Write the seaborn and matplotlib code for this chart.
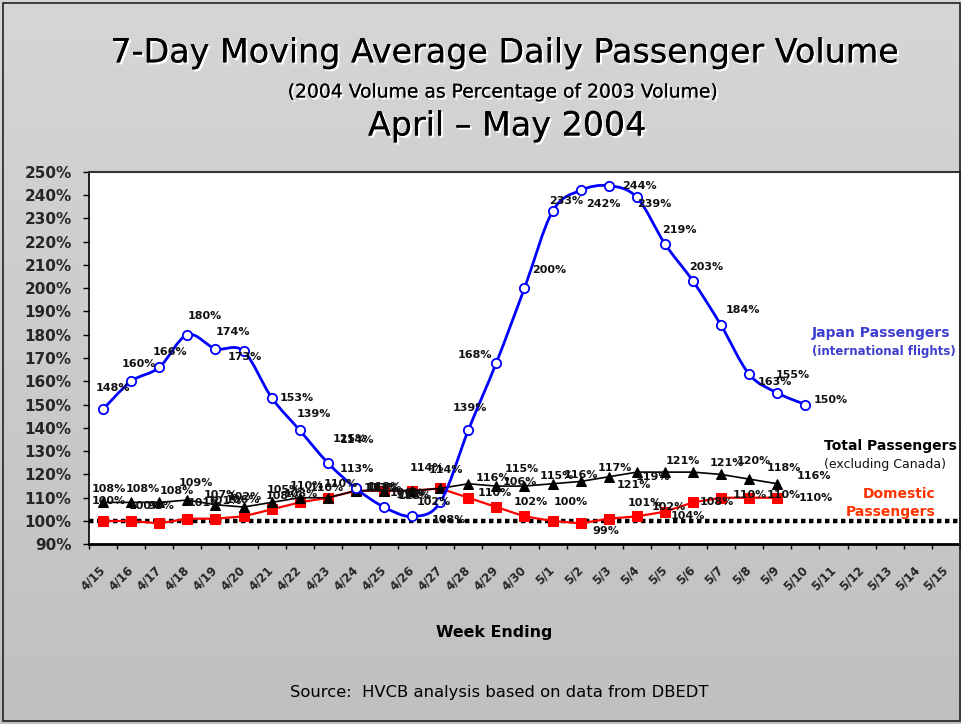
import numpy as np
import matplotlib
matplotlib.use("Agg")
import matplotlib.pyplot as plt
import matplotlib.patheffects as pe
from matplotlib.path import Path
from matplotlib.patches import PathPatch, Rectangle
from matplotlib.colors import LinearSegmentedColormap
import seaborn as sns

sns.set_theme(style="white")
plt.rcParams["font.family"] = ["DejaVu Sans"]

# categories (week ending)
dates = ["4/15", "4/16", "4/17", "4/18", "4/19", "4/20", "4/21", "4/22", "4/23", "4/24",
         "4/25", "4/26", "4/27", "4/28", "4/29", "4/30", "5/1", "5/2", "5/3", "5/4",
         "5/5", "5/6", "5/7", "5/8", "5/9", "5/10", "5/11", "5/12", "5/13", "5/14", "5/15"]

# 2004 volume as % of 2003 volume
japan = [148, 160, 166, 180, 174, 173, 153, 139, 125, 114, 106, 102, 108,
         139, 168, 200, 233, 242, 244, 239, 219, 203, 184, 163, 155, 150]
total = [108, 108, 108, 109, 107, 106, 108, 110, 110, 113, 113, 113, 114,
         116, 115, 115, 116, 117, 119, 121, 121, 121, 120, 118, 116]
domestic = [100, 100, 99, 101, 101, 102, 105, 108, 110, 113, 113, 113, 114,
            110, 106, 102, 100, 99, 101, 102, 104, 108, 110, 110, 110]

# data label offsets in pixels (dx to label left edge, dy up to label centre)
japan_lbl = [(-7, 21), (-9, 17), (-7, 15), (0, 19), (0, 17), (-16, -6), (8, 0), (-3, 16),
             (5, 24), (-16, 48), (6, 14), (5, 14), (-8, -18), (-16, 22), (-39, 8), (8, 18),
             (-3, 10), (5, -14), (13, 0), (0, -7), (-3, 14), (-4, 14), (5, 15), (8, -8),
             (-2, 18), (8, 5)]
total_lbl = [(-11, 13), (-5, 13), (0, 11), (-9, 17), (-12, 10), (-18, 7), (-6, 6), (-10, 12),
             (-4, 14), (-16, 22), (-16, 4), (-16, -4), (-30, 20), (7, 6), (8, 17), (15, 10),
             (11, 9), (17, 13), (27, 0), (-20, -13), (1, 11), (17, 9), (16, 13), (17, 11),
             (19, 8)]
domestic_lbl = [(-11, 20), (-2, 15), (-12, 17), (0, 16), (-8, 18), (-16, 19), (-5, 19), (-16, 8),
                (-18, 10), (8, 3), (-18, 3), (-14, -5), (-11, 18), (9, 5), (6, 25), (-11, 14),
                (1, 19), (12, -8), (19, 16), (15, 9), (6, -4), (7, 0), (12, 3), (17, 3), (21, 0)]


def smooth_path(xs, ys):
    pts = np.column_stack([xs, ys]).astype(float)
    ext = np.vstack([pts[0], pts, pts[-1]])
    verts = [pts[0]]
    codes = [Path.MOVETO]
    for i in range(len(pts) - 1):
        p0, p1, p2, p3 = ext[i], ext[i + 1], ext[i + 2], ext[i + 3]
        verts += [p1 + (p2 - p0) / 6, p2 - (p3 - p1) / 6, p2]
        codes += [Path.CURVE4] * 3
    return Path(verts, codes)


fig = plt.figure(figsize=(9.61, 7.24), dpi=100)

# slide background
bg = fig.add_axes([0, 0, 1, 1], zorder=-10)
bg.imshow(np.linspace(0, 1, 256).reshape(-1, 1), aspect="auto", extent=[0, 1, 0, 1],
          cmap=LinearSegmentedColormap.from_list("bg", ["#d6d6d6", "#c0c0c0"]))
bg.axis("off")
fig.patches.append(Rectangle((0.003, 0.004), 0.996, 0.992, transform=fig.transFigure,
                             fill=False, edgecolor="#222222", lw=1.2))

ax = fig.add_axes([0.0926, 0.2482, 0.9063, 0.5146])
ax.set_facecolor("white")

xj = np.arange(len(japan))
xt = np.arange(len(total))
xd = np.arange(len(domestic))

ax.axhline(100, color="black", lw=3.2, linestyle=(0, (1, 0.8)), zorder=1.5)

sns.lineplot(x=xd, y=domestic, ax=ax, color="#FF0000", lw=1.6, marker="s", markersize=7,
             markeredgecolor="#FF0000", zorder=3)
sns.lineplot(x=xt, y=total, ax=ax, color="black", lw=1.2, marker="^", markersize=7.5,
             markeredgecolor="black", zorder=3.5)
ax.add_patch(PathPatch(smooth_path(xj, japan), fill=False, edgecolor="#0000FF", lw=2, zorder=4))
sns.scatterplot(x=xj, y=japan, ax=ax, marker="o", s=45, color="white", edgecolor="#0000FF",
                linewidth=1.3, zorder=5)

for xs, ys, offs in [(xd, domestic, domestic_lbl), (xt, total, total_lbl), (xj, japan, japan_lbl)]:
    for xi, yi, (dx, dy) in zip(xs, ys, offs):
        ax.annotate(f"{yi}%", (xi, yi), xytext=(dx, dy), textcoords="offset pixels",
                    ha="left", va="center", fontsize=8, fontweight="bold", color="#111111",
                    zorder=6)

ax.set_xlim(-0.5, len(dates) - 0.5)
ax.set_ylim(90, 250)
ax.set_yticks(np.arange(90, 251, 10))
ax.set_yticklabels([f"{v}%" for v in range(90, 251, 10)], fontsize=11, fontweight="bold")
ax.set_xticks(np.arange(-0.5, len(dates), 1.0))
ax.set_xticklabels([])
ax.set_xticks(np.arange(len(dates)), minor=True)
ax.set_xticklabels(dates, minor=True, rotation=45, ha="right", va="center",
                   rotation_mode="anchor", fontsize=8.5, fontweight="bold")
ax.tick_params(axis="y", direction="out", length=4, width=1, color="black", pad=8.5, left=True)
ax.tick_params(axis="x", which="major", direction="out", length=3.6, width=1, color="black",
               bottom=True)
ax.tick_params(axis="x", which="minor", length=0, pad=17)
ax.set_xlabel("")
ax.set_ylabel("")

for side, col, w in [("left", "black", 1.2), ("bottom", "black", 2), ("top", "#333333", 1.5),
                     ("right", "#333333", 1.2)]:
    ax.spines[side].set_visible(True)
    ax.spines[side].set_color(col)
    ax.spines[side].set_linewidth(w)

# series labels
fig.text(0.845, 0.540, "Japan Passengers", ha="left", va="center",
         fontsize=10, fontweight="bold", color="#3F3FCF")
fig.text(0.845, 0.514, "(international flights)", ha="left", va="center",
         fontsize=8.5, fontweight="bold", color="#3F3FCF")
fig.text(0.857, 0.384, "Total Passengers", ha="left", va="center",
         fontsize=10, fontweight="bold", color="black")
fig.text(0.857, 0.359, "(excluding Canada)", ha="left", va="center",
         fontsize=9, color="#111111")
fig.text(0.973, 0.318, "Domestic", ha="right", va="center",
         fontsize=10, fontweight="bold", color="#FF3300")
fig.text(0.973, 0.293, "Passengers", ha="right", va="center",
         fontsize=10, fontweight="bold", color="#FF3300")

shadow = [pe.withSimplePatchShadow(offset=(1.5, -1.5), shadow_rgbFace="white", alpha=1), pe.Normal()]
fig.text(0.5255, 0.927, "7-Day Moving Average Daily Passenger Volume", ha="center", va="center",
         fontsize=24, color="black", path_effects=shadow)
fig.text(0.523, 0.873, "(2004 Volume as Percentage of 2003 Volume)", ha="center", va="center",
         fontsize=13.5, color="black", path_effects=shadow)
fig.text(0.528, 0.826, "April \u2013 May 2004", ha="center", va="center",
         fontsize=24, color="black", path_effects=shadow)
fig.text(0.514, 0.127, "Week Ending", ha="center", va="center", fontsize=11.4,
         fontweight="bold", color="black")
fig.text(0.52, 0.043, "Source:  HVCB analysis based on data from DBEDT", ha="center",
         va="center", fontsize=11.8, color="black")

fig.savefig("out.png", dpi=100)
